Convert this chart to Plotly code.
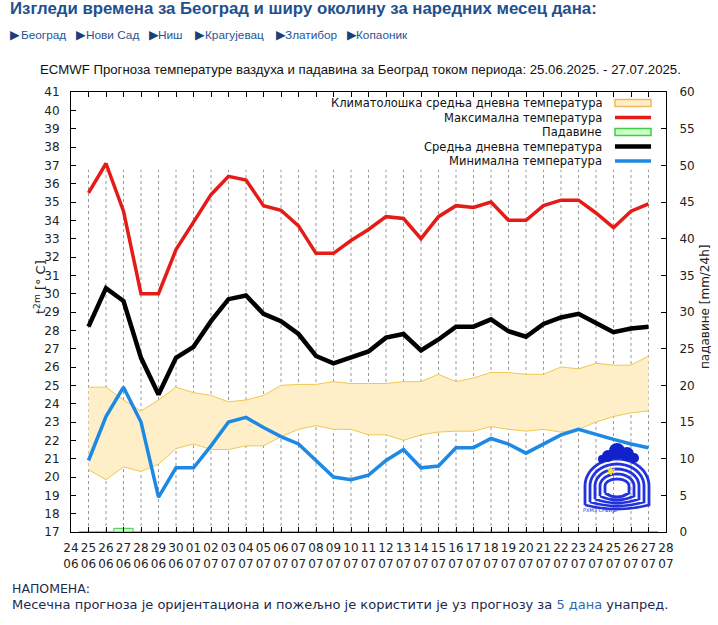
import math
import plotly.graph_objects as go

# ---------------- data ----------------
dates = ["2025-06-25", "2025-06-26", "2025-06-27", "2025-06-28", "2025-06-29", "2025-06-30",
         "2025-07-01", "2025-07-02", "2025-07-03", "2025-07-04", "2025-07-05", "2025-07-06",
         "2025-07-07", "2025-07-08", "2025-07-09", "2025-07-10", "2025-07-11", "2025-07-12",
         "2025-07-13", "2025-07-14", "2025-07-15", "2025-07-16", "2025-07-17", "2025-07-18",
         "2025-07-19", "2025-07-20", "2025-07-21", "2025-07-22", "2025-07-23", "2025-07-24",
         "2025-07-25", "2025-07-26", "2025-07-27"]

t_max = [35.5, 37.1, 34.5, 30.0, 30.0, 32.4, 33.9, 35.4, 36.4, 36.2, 34.8, 34.55, 33.7, 32.2,
         32.2, 32.9, 33.5, 34.2, 34.1, 33.0, 34.2, 34.8, 34.7, 35.0, 34.0, 34.0, 34.8, 35.1,
         35.1, 34.4, 33.6, 34.5, 34.9]
t_mean = [28.2, 30.3, 29.6, 26.5, 24.5, 26.5, 27.1, 28.5, 29.7, 29.9, 28.9, 28.5, 27.8, 26.6,
          26.2, 26.5, 26.85, 27.6, 27.8, 26.9, 27.5, 28.2, 28.2, 28.6, 27.95, 27.65, 28.35,
          28.7, 28.9, 28.4, 27.9, 28.1, 28.2]
t_min = [20.9, 23.3, 24.9, 23.0, 18.9, 20.5, 20.5, 21.7, 23.0, 23.25, 22.7, 22.2, 21.8, 20.9,
         20.0, 19.85, 20.1, 20.9, 21.5, 20.5, 20.6, 21.6, 21.6, 22.1, 21.8, 21.3, 21.8, 22.3,
         22.6, 22.3, 22.05, 21.8, 21.6]
clim_hi = [24.9, 24.9, 24.2, 23.6, 24.2, 24.9, 24.6, 24.45, 24.1, 24.2, 24.45, 25.0, 25.05,
           25.05, 25.2, 25.1, 25.1, 25.1, 25.2, 25.2, 25.6, 25.2, 25.4, 25.7, 25.7, 25.6, 25.6,
           26.0, 25.9, 26.2, 26.1, 26.1, 26.6]
clim_lo = [20.4, 19.85, 20.55, 20.3, 20.7, 21.55, 21.8, 21.5, 21.5, 21.7, 21.7, 22.2, 22.6,
           22.8, 22.6, 22.6, 22.3, 22.3, 22.0, 22.3, 22.45, 22.5, 22.5, 22.75, 22.6, 22.5, 22.6,
           22.45, 22.6, 23.0, 23.3, 23.5, 23.6]
precip = [0, 0, 0.5, 0, 0, 0, 0, 0, 0, 0, 0, 0, 0, 0, 0, 0, 0, 0, 0, 0, 0, 0, 0, 0, 0, 0, 0,
          0, 0, 0, 0, 0, 0]

tick_dates = ["2025-06-24"] + dates + ["2025-07-28"]
tick_text = [d[8:10] + "<br>" + d[5:7] for d in tick_dates]

legend_labels = ["Климатолошка средња дневна температура", "Максимална температура",
                 "Падавине", "Средња дневна температура", "Минимална температура"]

title_text = "Изгледи времена за Београд и ширу околину за наредних месец дана:"
city_links = ["Београд", "Нови Сад", "Ниш", "Крагујевац", "Златибор", "Копаоник"]
subtitle = ("ECMWF Прогноза температуре ваздуха и падавина за Београд током периода: "
            "25.06.2025. - 27.07.2025.")

# ---------------- styles ----------------
W, H = 718, 625
L, R, T, B = 71, 666, 92, 532
RED, BLACK, BLUE = "#e41b17", "#000000", "#1e88e5"
BAND_FILL, BAND_LINE = "#ffefc8", "#f0c850"
GREEN_LINE, GREEN_FILL = "#44cc44", "#ccffcc"
CHART_FONT = "DejaVu Sans"
WEB_FONT = "Liberation Sans"


def P(px, py):
    return (px - L) / (R - L), (B - py) / (B - T)


fig = go.Figure()

fig.add_trace(go.Scatter(x=dates, y=clim_lo, mode="lines",
                         line=dict(color=BAND_LINE, width=1), showlegend=False))
fig.add_trace(go.Scatter(x=dates, y=clim_hi, mode="lines", fill="tonexty",
                         fillcolor=BAND_FILL, line=dict(color=BAND_LINE, width=1),
                         showlegend=False))
fig.add_trace(go.Scatter(x=dates, y=t_max, mode="lines",
                         line=dict(color=RED, width=3.5), showlegend=False))
fig.add_trace(go.Scatter(x=dates, y=t_mean, mode="lines",
                         line=dict(color=BLACK, width=4.5), showlegend=False))
fig.add_trace(go.Scatter(x=dates, y=t_min, mode="lines",
                         line=dict(color=BLUE, width=3.5), showlegend=False))
fig.add_trace(go.Bar(x=dates, y=precip, yaxis="y2", width=1.1 * 86400000,
                     marker=dict(color=GREEN_FILL, line=dict(color=GREEN_LINE, width=1)),
                     showlegend=False))

shapes = []
# dotted vertical grid lines (stop at ~36.75 °C as in the original)
for d in dates:
    shapes.append(dict(type="line", xref="x", yref="y", x0=d, x1=d, y0=17, y1=36.75,
                       line=dict(color="#999999", width=1, dash="dot"), layer="below"))

annotations = []

# ---------- custom legend (text on the left, sample on the right) ----------
leg_y = [103, 117.5, 132, 146.5, 161]
for lab, yy in zip(legend_labels, leg_y):
    ax, ay = P(604, yy)
    annotations.append(dict(text=lab, x=ax, y=ay, xref="paper", yref="paper",
                            xanchor="right", yanchor="middle", showarrow=False,
                            font=dict(family=CHART_FONT, size=11.5, color="#111111")))
x0, _ = P(615, 0)
x1, _ = P(651, 0)
# climatology sample
_, ya = P(0, 99.5)
_, yb = P(0, 106.5)
shapes.append(dict(type="rect", xref="paper", yref="paper", x0=x0, x1=x1, y0=yb, y1=ya,
                   fillcolor=BAND_FILL, line=dict(color="#f0b860", width=1.5)))
# precipitation sample
_, ya = P(0, 128.5)
_, yb = P(0, 135.5)
shapes.append(dict(type="rect", xref="paper", yref="paper", x0=x0, x1=x1, y0=yb, y1=ya,
                   fillcolor=GREEN_FILL, line=dict(color=GREEN_LINE, width=1.5)))
for col, yy, wd in [(RED, 117.5, 3.5), (BLACK, 146.5, 4.5), (BLUE, 161, 3.5)]:
    _, yl = P(0, yy)
    shapes.append(dict(type="line", xref="paper", yref="paper", x0=x0, x1=x1, y0=yl, y1=yl,
                       line=dict(color=col, width=wd)))

# ---------- axis titles ----------
ax, ay = P(40, 287)
annotations.append(dict(text="t<sup>2m</sup> [° C]", x=ax, y=ay, xref="paper", yref="paper",
                        textangle=-90, showarrow=False, xanchor="center", yanchor="middle",
                        font=dict(family=CHART_FONT, size=13, color="#222222")))
ax, ay = P(705, 307)
annotations.append(dict(text="падавине [mm/24h]", x=ax, y=ay, xref="paper", yref="paper",
                        textangle=-90, showarrow=False, xanchor="center", yanchor="middle",
                        font=dict(family=CHART_FONT, size=12, color="#222222")))

# ---------- page texts ----------
ax, ay = P(8, 8)
annotations.append(dict(text="<b>" + title_text + "</b>", x=ax, y=ay, xref="paper",
                        yref="paper", xanchor="left", yanchor="middle", showarrow=False,
                        font=dict(family=WEB_FONT, size=16.8, color="#21508f")))
tri_x = [8, 74, 147, 193, 274, 345]
txt_x = [19, 84, 156, 203, 283, 354]
for name, tx, lx in zip(city_links, tri_x, txt_x):
    ax, ay = P(tx, 35)
    annotations.append(dict(text="▶", x=ax, y=ay, xref="paper", yref="paper",
                            xanchor="left", yanchor="middle", showarrow=False,
                            font=dict(family=CHART_FONT, size=12.5, color="#1a3f7a")))
    ax, ay = P(lx, 35)
    annotations.append(dict(text=name, x=ax, y=ay, xref="paper", yref="paper",
                            xanchor="left", yanchor="middle", showarrow=False,
                            font=dict(family=WEB_FONT, size=11.8, color="#1f5499")))
ax, ay = P(360, 69)
annotations.append(dict(text=subtitle, x=ax, y=ay, xref="paper", yref="paper",
                        xanchor="center", yanchor="middle", showarrow=False,
                        font=dict(family=WEB_FONT, size=13.2, color="#111111")))
ax, ay = P(10, 588)
annotations.append(dict(text="НАПОМЕНА:", x=ax, y=ay, xref="paper", yref="paper",
                        xanchor="left", yanchor="middle", showarrow=False,
                        font=dict(family=CHART_FONT, size=12.5, color="#1b2a4e")))
ax, ay = P(10, 604)
annotations.append(dict(
    text="Месечна прогноза је оријентациона и пожељно је користити је уз прогнозу за "
         "<span style='color:#2b6cb0'>5 дана</span> унапред.",
    x=ax, y=ay, xref="paper", yref="paper", xanchor="left", yanchor="middle",
    showarrow=False, font=dict(family=CHART_FONT, size=13, color="#1b2a4e")))

# ---------- logo (approximate drawing) ----------
LOGO = "#2233dd"
cx, cy = 617, 486
for k in range(5):
    rx = 32 - 5 * k
    ry = 27 - 5 * k
    leg = 19 - 3 * k
    pts = []
    for i in range(0, 37):
        a = math.pi - math.pi * i / 36
        pts.append(P(cx + rx * math.cos(a), cy - ry * math.sin(a)))
    path = "M {:.5f},{:.5f} ".format(*P(cx - rx, cy + leg))
    path += " ".join("L {:.5f},{:.5f}".format(*p) for p in pts)
    path += " L {:.5f},{:.5f}".format(*P(cx + rx, cy + leg))
    qx, qy = P(cx, cy + leg + 8)
    ex, ey = P(cx - rx, cy + leg)
    path += " Q {:.5f},{:.5f} {:.5f},{:.5f}".format(qx, qy, ex, ey)
    shapes.append(dict(type="path", xref="paper", yref="paper", path=path,
                       line=dict(color=LOGO, width=2.8)))
for (ccx, ccy, r) in [(608, 456, 6), (617, 451, 8), (627, 454, 7), (634, 458, 5), (602, 459, 4)]:
    a0, b0 = P(ccx - r, ccy + r)
    a1, b1 = P(ccx + r, ccy - r)
    shapes.append(dict(type="circle", xref="paper", yref="paper", x0=a0, x1=a1, y0=b0, y1=b1,
                       fillcolor="#1122cc", line=dict(color="#1122cc", width=0)))
ax, ay = P(617, 480)
annotations.append(dict(text="✱", x=ax, y=ay, xref="paper", yref="paper", showarrow=False,
                        font=dict(family=CHART_FONT, size=11, color="#f5e030")))
ax, ay = P(619, 515)
annotations.append(dict(text="РХМЗ СРБИЈЕ", x=ax, y=ay, xref="paper", yref="paper",
                        showarrow=False, font=dict(family=CHART_FONT, size=5, color=LOGO)))

fig.update_layout(
    width=W, height=H,
    margin=dict(l=L, r=W - R, t=T, b=H - B, pad=0),
    paper_bgcolor="white", plot_bgcolor="white",
    showlegend=False, bargap=0,
    shapes=shapes, annotations=annotations,
    xaxis=dict(type="date", range=["2025-06-24", "2025-07-28"],
               tickmode="array", tickvals=tick_dates, ticktext=tick_text,
               ticks="inside", ticklen=5, tickcolor="black", showgrid=False,
               showline=True, linecolor="black", linewidth=1, mirror="ticks",
               zeroline=False, ticklabelstandoff=5,
               tickfont=dict(family=CHART_FONT, size=12, color="#222222")),
    yaxis=dict(range=[17, 41], dtick=1, tick0=17, ticks="inside", ticklen=5,
               tickcolor="black", showgrid=False, showline=True, linecolor="black",
               linewidth=1, zeroline=False, ticklabelstandoff=8,
               tickfont=dict(family=CHART_FONT, size=12, color="#222222")),
    yaxis2=dict(range=[0, 60], dtick=5, tick0=0, overlaying="y", side="right",
                ticks="inside", ticklen=5, tickcolor="black", showgrid=False,
                showline=True, linecolor="black", linewidth=1, zeroline=False,
                ticklabelstandoff=10,
                tickfont=dict(family=CHART_FONT, size=12, color="#222222")),
)

fig.write_html("out.html", config={"displayModeBar": False, "staticPlot": True},
               post_script="document.body.style.margin='0px';document.body.style.overflow='hidden';")
